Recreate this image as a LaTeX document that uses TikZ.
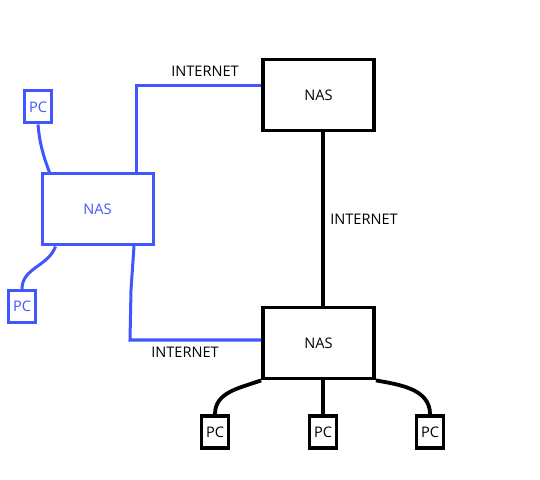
\documentclass[tikz,border=0pt]{standalone}
\usepackage{fontspec}
\setmainfont{Open Sans}
\definecolor{penblue}{RGB}{64,86,255}
\tikzset{
  nas/.style={draw, line width=1.9pt, inner sep=0pt, minimum width=55.5pt, minimum height=35.5pt},
  pc/.style={draw, line width=1.9pt, inner sep=0pt, minimum width=13.5pt, minimum height=16pt},
  wire/.style={line width=1.9pt},
  bluewire/.style={line width=1.5pt, penblue},
  lbl/.style={inner sep=0pt}
}
\begin{document}
\begin{tikzpicture}[x=0.5pt, y=-0.5pt, font=\fontsize{7.3}{9}\selectfont]
  \useasboundingbox (0,0) rectangle (540,480);
  \draw
    (318.5,95) node[nas] (nasTop){NAS}
    (318.5,343) node[nas] (nasBot){NAS}
    (97.5,209.5) node[nas, penblue, line width=1.5pt] (nasLeft){NAS}
    (38,107) node[pc, penblue, line width=1.5pt] (pcA){PC}
    (22,306.5) node[pc, penblue, line width=1.5pt] (pcB){PC}
    (215,432) node[pc] (pcL){PC}
    (323,432) node[pc] (pcM){PC}
    (430,432) node[pc] (pcR){PC};
  \draw
    (205,71) node[lbl] (lblTop){INTERNET}
    (364,219) node[lbl] (lblMid){INTERNET}
    (185,352) node[lbl] (lblBot){INTERNET};
  \coordinate (topbend) at (136,86);
  \coordinate (botbend) at (130,340);
  \coordinate (leftfoot) at (134,246);
  \begin{scope}[wire]
    \draw[line width=2.3pt] (pcM.north |- nasTop.south) to (pcM.north |- nasBot.north);
    \draw (nasBot.south west) to[out=200, in=90] (pcL.north);
    \draw (pcM.north |- nasBot.south) to (pcM.north);
    \draw (nasBot.south east) to[out=-10, in=90] (pcR.north);
  \end{scope}
  \begin{scope}[bluewire]
    \draw ([yshift=4.5pt]nasTop.west) -- (topbend) -- (topbend |- nasLeft.north);
    \draw (leftfoot) -- (131,290) -- (botbend) -- (botbend -| nasBot.west);
    \draw (pcA.south) to[out=-85, in=110] ([xshift=-24pt]nasLeft.north);
    \draw ([xshift=-21pt]nasLeft.south) to[out=-110, in=90] (pcB.north);
  \end{scope}
\end{tikzpicture}
\end{document}
